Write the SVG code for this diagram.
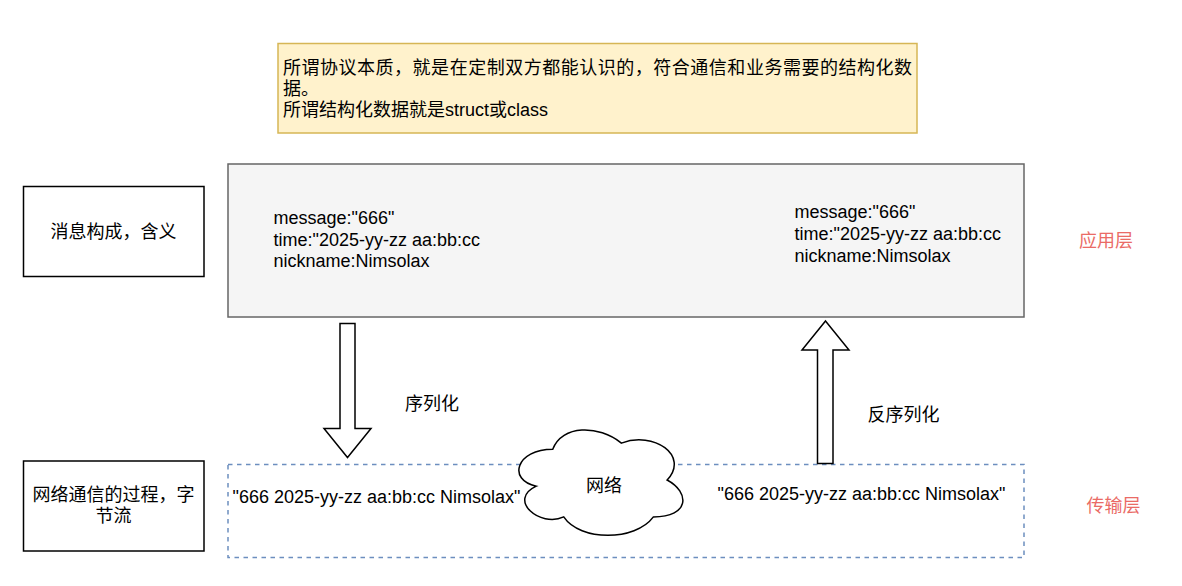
<svg xmlns="http://www.w3.org/2000/svg" width="1182" height="586" viewBox="0 0 1182 586">
<style>
  text { font-family: "Liberation Sans", "Noto Sans CJK SC", sans-serif; font-size: 18px; fill: #000; }
  .c { text-anchor: middle; }
  .red { fill: #EA6B66; }
  .box { fill: #fff; stroke: #000; stroke-width: 1.5; }
  .arrow { fill: #fff; stroke: #000; stroke-width: 1.5; stroke-linejoin: miter; }
</style>
<rect width="1182" height="586" fill="#fff"/>

<g id="note">
  <rect x="278" y="43.5" width="639" height="89.5" fill="#fff2cc" stroke="#d6b656" stroke-width="1.5"/>
  <text x="283" y="74" textLength="629" lengthAdjust="spacing">所谓协议本质，就是在定制双方都能认识的，符合通信和业务需要的结构化数</text>
  <text x="283" y="95">据。</text>
  <text x="283" y="116">所谓结构化数据就是struct或class</text>
</g>

<g id="label-message">
  <rect class="box" x="23.5" y="186.5" width="180.5" height="90"/>
  <text class="c" x="113.5" y="237.5">消息构成，含义</text>
</g>

<g id="app-box">
  <rect x="228" y="164" width="796" height="153" fill="#f5f5f5" stroke="#666666" stroke-width="1.5"/>
  <text x="273.5" y="224">message:"666"</text>
  <text x="273.5" y="245.5">time:"2025-yy-zz aa:bb:cc</text>
  <text x="273.5" y="267">nickname:Nimsolax</text>
  <text x="794.5" y="217.5">message:"666"</text>
  <text x="794.5" y="239.5">time:"2025-yy-zz aa:bb:cc</text>
  <text x="794.5" y="261.5">nickname:Nimsolax</text>
</g>

<g id="label-app">
  <text class="c red" x="1106" y="246.5">应用层</text>
</g>

<g id="label-network">
  <rect class="box" x="23.5" y="461" width="180.5" height="90"/>
  <text class="c" x="113.5" y="500.5">网络通信的过程，字</text>
  <text class="c" x="113.5" y="521.5">节流</text>
</g>

<g id="transport-box">
  <rect x="228" y="464.5" width="796" height="93" fill="none" stroke="#6c8ebf" stroke-width="1.5" stroke-dasharray="4.5 4.5"/>
  <text x="232.5" y="503">"666 2025-yy-zz aa:bb:cc Nimsolax"</text>
  <text x="717.5" y="500">"666 2025-yy-zz aa:bb:cc Nimsolax"</text>
</g>

<g id="label-transport">
  <text class="c red" x="1113.5" y="511.5">传输层</text>
</g>

<g id="cloud">
  <path d="M552.75,449.25 C516.15,449.25 507,480 536.28,486.15 C507,499.68 539.94,527.97 563.73,516.9 C580.2,541.5 635.1,541.5 653.4,516.9 C690,516.9 690,492.3 667.13,480 C690,455.4 653.4,430.8 621.38,443.1 C598.5,424.65 561.9,424.65 552.75,449.25 Z" fill="#fff" stroke="#000" stroke-width="1.5"/>
  <text class="c" x="604" y="492">网络</text>
</g>

<g id="connectors">
  <polygon class="arrow" points="340,323.5 355,323.5 355,428.5 371,428.5 347.5,457.5 324,428.5 340,428.5"/>
  <text x="405" y="409.5">序列化</text>
  <polygon class="arrow" points="825.5,321 849,350 833,350 833,463.5 817.5,463.5 817.5,350 802,350"/>
  <text x="867.5" y="420.5">反序列化</text>
</g>
</svg>
